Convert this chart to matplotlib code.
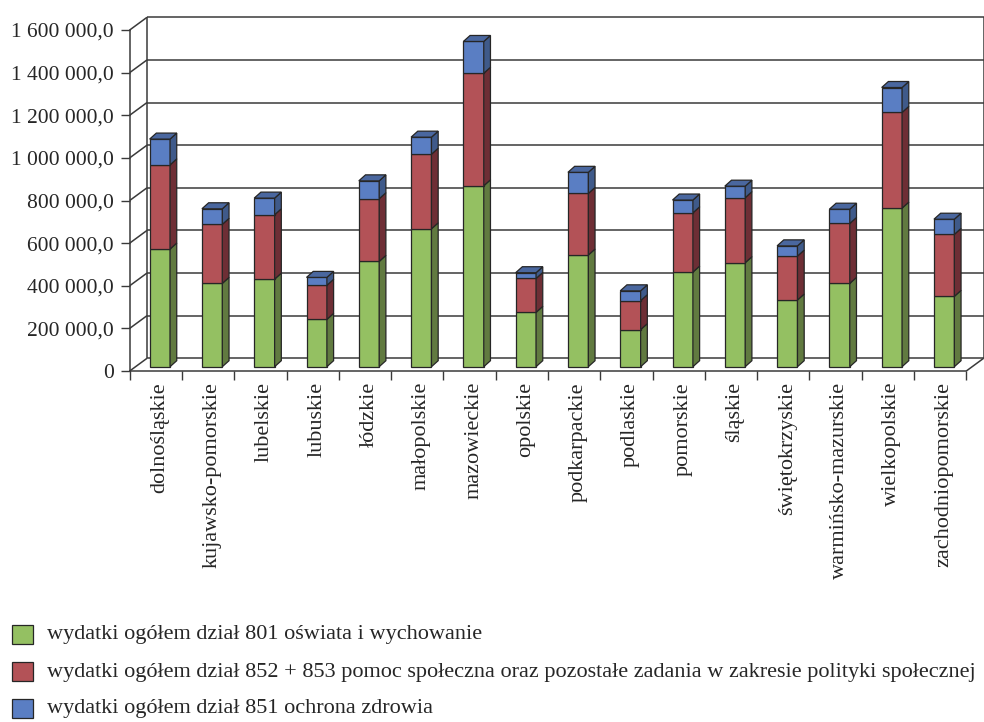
import matplotlib
matplotlib.use("Agg")
import matplotlib.pyplot as plt
from matplotlib.patches import Polygon, Rectangle
from matplotlib.lines import Line2D
from matplotlib.transforms import ScaledTranslation, IdentityTransform
import numpy as np

# ---- data -------------------------------------------------------------
regions = ["dolnośląskie", "kujawsko-pomorskie", "lubelskie", "lubuskie",
           "łódzkie", "małopolskie", "mazowieckie", "opolskie",
           "podkarpackie", "podlaskie", "pomorskie", "śląskie",
           "świętokrzyskie", "warmińsko-mazurskie", "wielkopolskie",
           "zachodniopomorskie"]

education = [552000, 391000, 411000, 222000, 494000, 647000, 849000, 255000,
             524000, 174000, 444000, 488000, 313000, 391000, 744000, 330000]
social = [395000, 277000, 302000, 160000, 294000, 350000, 528000, 159000,
          289000, 136000, 278000, 305000, 206000, 281000, 449000, 291000]
health = [121000, 73000, 78000, 37000, 84000, 80000, 149000, 27000,
          99000, 46000, 60000, 54000, 48000, 67000, 117000, 71000]

series_labels = [
    "wydatki ogółem dział 801 oświata i wychowanie",
    "wydatki ogółem dział 852 + 853 pomoc społeczna oraz pozostałe zadania w zakresie polityki społecznej",
    "wydatki ogółem dział 851 ochrona zdrowia",
]
y_ticks = [0, 200000, 400000, 600000, 800000, 1000000, 1200000, 1400000, 1600000]

# ---- styling ----------------------------------------------------------
front_colors = ["#94c062", "#b35257", "#5a7ec3"]
side_colors = ["#617a40", "#6e2e35", "#3f5a8a"]
top_colors = ["#7da350", "#94434a", "#4a679f"]
edge = "#262626"
text_color = "#262626"
font = "Liberation Serif"

W, H = 984, 722
fig = plt.figure(figsize=(W / 100, H / 100), dpi=100)
fig.patch.set_facecolor("white")


def fig_box(left, top, right, bottom):
    return [left / W, 1 - bottom / H, (right - left) / W, (bottom - top) / H]


ax = fig.add_axes(fig_box(129.7, 30, 966.3, 371))
ax.set_xlim(0, len(regions))
ax.set_ylim(0, y_ticks[-1])
ax.patch.set_visible(False)


def shifted(dx, dy):
    return ax.transData + ScaledTranslation(dx / 100, dy / 100, fig.dpi_scale_trans)


back_shift = (17.3, 12.7)
bar_shift = (4.0, 4.3)
depth = (6.7, 6.0)
back_tr = shifted(*back_shift)
bar_tr = shifted(*bar_shift)
grid_kw = dict(color="#3a3a3a", lw=1.1, solid_capstyle="butt", clip_on=False)

# back wall: gridlines and vertical edges
n = len(regions)
for v in y_ticks:
    ax.add_line(Line2D([0, n], [v, v], transform=back_tr, zorder=1, **grid_kw))
for xe in (0, n):
    ax.add_line(Line2D([xe, xe], [0, y_ticks[-1]], transform=back_tr, zorder=1, **grid_kw))

# side wall diagonals and floor edge
to_disp = ax.transData.transform
bdx, bdy = back_shift


def diag(xv, v):
    p = to_disp((xv, v))
    return Line2D([p[0], p[0] + bdx], [p[1], p[1] + bdy],
                  transform=IdentityTransform(), zorder=1, **grid_kw)


for v in y_ticks:
    ax.add_line(diag(0, v))
ax.add_line(diag(n, 0))

# stacked 3-D columns
x = np.arange(n) + 0.5
width = 0.39
layers = [education, social, health]
bottoms = np.zeros(n)
ddx, ddy = depth
for k, vals in enumerate(layers):
    vals = np.asarray(vals, dtype=float)
    bars = ax.bar(x, vals, width=width, bottom=bottoms, color=front_colors[k],
                  edgecolor=edge, linewidth=0.9, zorder=3, clip_on=False)
    for i, b in enumerate(bars):
        b.set_transform(bar_tr)
        x1 = x[i] + width / 2
        x0 = x[i] - width / 2
        lo, hi = bottoms[i], bottoms[i] + vals[i]
        (rx, rlo), = bar_tr.transform([(x1, lo)])
        (_, rhi), = bar_tr.transform([(x1, hi)])
        (lx, _), = bar_tr.transform([(x0, hi)])
        side = Polygon([(rx, rlo), (rx + ddx, rlo + ddy), (rx + ddx, rhi + ddy), (rx, rhi)],
                       closed=True, transform=IdentityTransform(), facecolor=side_colors[k],
                       edgecolor=edge, linewidth=0.9, zorder=3, clip_on=False)
        ax.add_patch(side)
        if k == len(layers) - 1:
            top = Polygon([(lx, rhi), (rx, rhi), (rx + ddx, rhi + ddy), (lx + ddx, rhi + ddy)],
                          closed=True, transform=IdentityTransform(), facecolor=top_colors[k],
                          edgecolor=edge, linewidth=0.9, zorder=3, clip_on=False)
            ax.add_patch(top)
    bottoms = bottoms + vals

# axes frame (front edges)
for s in ("top", "right"):
    ax.spines[s].set_visible(False)
for s in ("left", "bottom"):
    ax.spines[s].set_color("#3a3a3a")
    ax.spines[s].set_linewidth(1.1)
    ax.spines[s].set_zorder(2)


def fmt(v):
    if v == 0:
        return "0"
    return f"{v:,.1f}".replace(",", " ").replace(".", ",")


ax.set_yticks(y_ticks)
ax.set_yticklabels([fmt(v) for v in y_ticks], fontfamily=font, fontsize=15.5, color=text_color)
ax.tick_params(axis="y", direction="out", length=6.5, width=1.0, color="#3a3a3a", pad=5)
ax.set_xticks(np.arange(n + 1))
ax.set_xticklabels([])
ax.tick_params(axis="x", direction="out", length=6.5, width=1.0, color="#3a3a3a")

label_tr = shifted(4.0, -11)
for xi, name in zip(x, regions):
    ax.text(xi, 0, name, rotation=90, ha="center", va="top", transform=label_tr,
            fontfamily=font, fontsize=16, color=text_color)

# legend
legend_y = [634, 671, 708]
for k, (lab, yc) in enumerate(zip(series_labels, legend_y)):
    fig.add_artist(Rectangle((12 / W, 1 - (yc + 9.5) / H), 21 / W, 19 / H,
                             transform=fig.transFigure, facecolor=front_colors[k],
                             edgecolor=edge, linewidth=0.9))
    fig.text(46.7 / W, 1 - (yc + 1) / H, lab, ha="left", va="center",
             fontfamily=font, fontsize=16, color=text_color)

fig.savefig("out.png", dpi=100)
